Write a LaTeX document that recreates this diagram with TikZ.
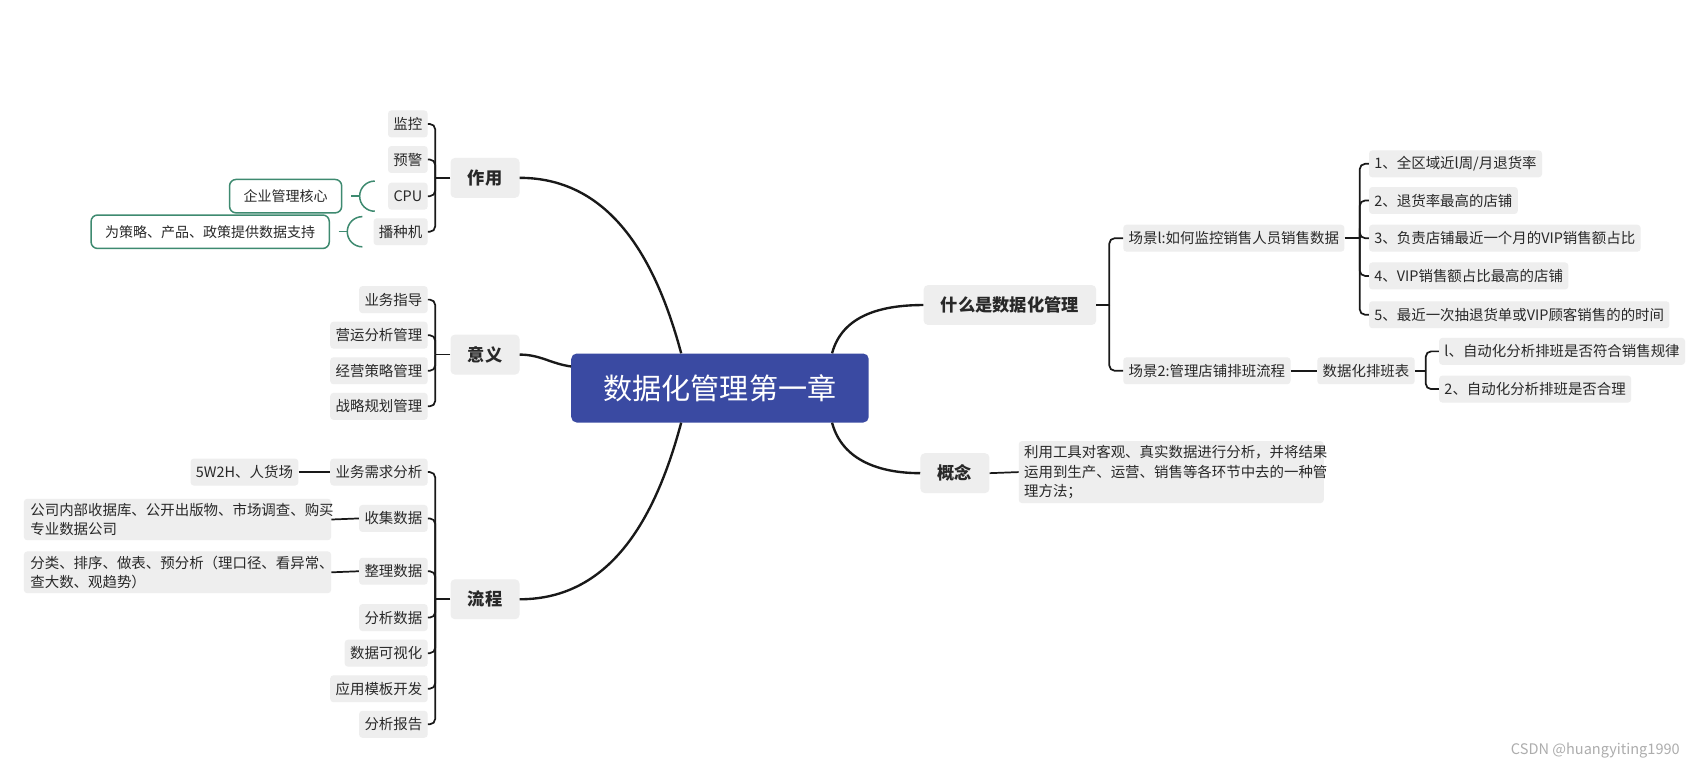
\documentclass[tikz,border=0pt]{standalone}
\usepackage{fontspec}
\setmainfont{Noto Sans CJK SC}

\definecolor{rootblue}{RGB}{58,74,162}
\definecolor{boxgray}{RGB}{238,238,238}
\definecolor{textgray}{RGB}{40,40,40}
\definecolor{notegreen}{RGB}{62,138,112}

\begin{document}
\begin{tikzpicture}[x=1pt, y=1pt,
    rootbox/.style={fill=rootblue, rounded corners=5pt, text=white,
      font=\fontsize{27}{30}\selectfont, minimum width=276pt, minimum height=64pt},
    topicbox/.style={fill=boxgray, rounded corners=4pt, text=textgray,
      font=\fontsize{16}{19}\selectfont\bfseries, inner xsep=16pt, minimum height=37pt},
    leafbox/.style={fill=boxgray, rounded corners=3pt, text=textgray,
      font=\fontsize{13.4}{18}\selectfont, inner xsep=5pt, inner ysep=3pt, minimum height=25pt},
    longbox/.style={leafbox, align=left, text width=273pt, inner xsep=6pt, inner ysep=4pt},
    notebox/.style={draw=notegreen, line width=1.4pt, rounded corners=6pt, text=textgray,
      font=\fontsize{13}{16}\selectfont, inner xsep=13pt, minimum height=31pt},
    trunk/.style={line width=2.2pt, black!90},
    twig/.style={line width=1.6pt, black!90, rounded corners=5pt},
    gline/.style={line width=1.4pt, notegreen}]

  \fill[white] (0,0) rectangle (1568,-710);
  \useasboundingbox (0,0) rectangle (1568,-710);

  % 1. Central topic
  \node[rootbox] (root) at (668,-360) {数据化管理第一章};

  % 2. Main topics
  \node[topicbox] (zy) at (450,-165) {作用};
  \node[topicbox] (yy) at (450,-329) {意义};
  \node[topicbox] (lc) at (450,-556) {流程};
  \node[topicbox] (sm) at (937,-283) {什么是数据化管理};
  \node[topicbox] (gn) at (886,-439) {概念};

  % Curves from the centre
  \draw[trunk] (zy.east) to[out=0, in=105] ([xshift=-36pt]root.north);
  \draw[trunk] (yy.east) to[out=0, in=172] ([yshift=20pt]root.west);
  \draw[trunk] (lc.east) to[out=0, in=-105] ([xshift=-36pt]root.south);
  \draw[trunk] ([xshift=104pt]root.north) to[out=75, in=180] (sm.west);
  \draw[trunk] ([xshift=104pt]root.south) to[out=-75, in=180] (gn.west);

  % 3. 作用
  \node[leafbox, anchor=east] (jk) at (397,-115) {监控};
  \node[leafbox, anchor=east] (yj) at (397,-148) {预警};
  \node[leafbox, anchor=east] (cpu) at (397,-182) {CPU};
  \node[leafbox, anchor=east] (bzj) at (397,-215) {播种机};
  \draw[twig] (zy.west) -- ++(-14,0);
  \draw[twig] ([xshift=-14pt]zy.west) |- (jk.east);
  \draw[twig] ([xshift=-14pt]zy.west) |- (yj.east);
  \draw[twig] ([xshift=-14pt]zy.west) |- (cpu.east);
  \draw[twig] ([xshift=-14pt]zy.west) |- (bzj.east);

  % Notes on CPU and 播种机
  \node[notebox] (hx) at (265,-182) {企业管理核心};
  \node[notebox] (zc) at (195,-215) {为策略、产品、政策提供数据支持};
  \draw[gline] ([xshift=8pt]hx.east) -- ++(8,0) coordinate (hxb);
  \draw[gline] ([shift={(14,14)}]hxb) to[out=180, in=90] (hxb)
    to[out=-90, in=180] ([shift={(14,-14)}]hxb);
  \draw[gline] ([xshift=8pt]zc.east) -- ++(8,0) coordinate (zcb);
  \draw[gline] ([shift={(14,14)}]zcb) to[out=180, in=90] (zcb)
    to[out=-90, in=180] ([shift={(14,-14)}]zcb);

  % 4. 意义
  \node[leafbox, anchor=east] (ywzd) at (397,-278) {业务指导};
  \node[leafbox, anchor=east] (yyfx) at (397,-311) {营运分析管理};
  \node[leafbox, anchor=east] (jycl) at (397,-344) {经营策略管理};
  \node[leafbox, anchor=east] (zlgh) at (397,-377) {战略规划管理};
  \draw[twig] (yy.west) -- ++(-14,0);
  \draw[twig] ([xshift=-14pt]yy.west) |- (ywzd.east);
  \draw[twig] ([xshift=-14pt]yy.west) |- (yyfx.east);
  \draw[twig] ([xshift=-14pt]yy.west) |- (jycl.east);
  \draw[twig] ([xshift=-14pt]yy.west) |- (zlgh.east);

  % 5. 流程
  \node[leafbox, anchor=east] (xqfx) at (397,-438) {业务需求分析};
  \node[leafbox, anchor=east] (sjsj) at (397,-481) {收集数据};
  \node[leafbox, anchor=east] (zlsj) at (397,-530) {整理数据};
  \node[leafbox, anchor=east] (fxsj) at (397,-573) {分析数据};
  \node[leafbox, anchor=east] (ksh) at (397,-606) {数据可视化};
  \node[leafbox, anchor=east] (mbkf) at (397,-639) {应用模板开发};
  \node[leafbox, anchor=east] (fxbg) at (397,-672) {分析报告};
  \draw[twig] (lc.west) -- ++(-14,0);
  \draw[twig] ([xshift=-14pt]lc.west) |- (xqfx.east);
  \draw[twig] ([xshift=-14pt]lc.west) |- (sjsj.east);
  \draw[twig] ([xshift=-14pt]lc.west) |- (zlsj.east);
  \draw[twig] ([xshift=-14pt]lc.west) |- (fxsj.east);
  \draw[twig] ([xshift=-14pt]lc.west) |- (ksh.east);
  \draw[twig] ([xshift=-14pt]lc.west) |- (mbkf.east);
  \draw[twig] ([xshift=-14pt]lc.west) |- (fxbg.east);

  \node[leafbox, anchor=east] (rhc) at (277,-438) {5W2H、人货场};
  \node[longbox, anchor=west] (sjly) at (22,-482)
    {公司内部收据库、公开出版物、市场调查、购买\\专业数据公司};
  \node[longbox, anchor=west] (zlff) at (22,-531)
    {分类、排序、做表、预分析（理口径、看异常、\\查大数、观趋势）};
  \draw[twig] (rhc.east) -- (xqfx.west);
  \draw[twig] (sjly.east) -- (sjsj.west);
  \draw[twig] (zlff.east) -- (zlsj.west);

  % 6. 什么是数据化管理
  \node[leafbox, anchor=west] (cj1) at (1042,-221) {场景l:如何监控销售人员销售数据};
  \node[leafbox, anchor=west] (cj2) at (1042,-344) {场景2:管理店铺排班流程};
  \draw[twig] (sm.east) -- ++(12,0);
  \draw[twig] ([xshift=12pt]sm.east) |- (cj1.west);
  \draw[twig] ([xshift=12pt]sm.east) |- (cj2.west);

  \node[leafbox, anchor=west] (th1) at (1270,-152) {1、全区域近l周/月退货率};
  \node[leafbox, anchor=west] (th2) at (1270,-186) {2、退货率最高的店铺};
  \node[leafbox, anchor=west] (th3) at (1270,-221) {3、负责店铺最近一个月的VIP销售额占比};
  \node[leafbox, anchor=west] (th4) at (1270,-256) {4、VIP销售额占比最高的店铺};
  \node[leafbox, anchor=west] (th5) at (1270,-292) {5、最近一次抽退货单或VIP顾客销售的的时间};
  \draw[twig] (cj1.east) -- ++(14,0);
  \draw[twig] ([xshift=14pt]cj1.east) |- (th1.west);
  \draw[twig] ([xshift=14pt]cj1.east) |- (th2.west);
  \draw[twig] ([xshift=14pt]cj1.east) |- (th3.west);
  \draw[twig] ([xshift=14pt]cj1.east) |- (th4.west);
  \draw[twig] ([xshift=14pt]cj1.east) |- (th5.west);

  \node[leafbox, anchor=west] (pbb) at (1222,-344) {数据化排班表};
  \draw[twig] (cj2.east) -- (pbb.west);
  \node[leafbox, anchor=west] (pb1) at (1335,-326) {l、自动化分析排班是否符合销售规律};
  \node[leafbox, anchor=west] (pb2) at (1335,-361) {2、自动化分析排班是否合理};
  \draw[twig] (pbb.east) -- ++(10,0);
  \draw[twig] ([xshift=10pt]pbb.east) |- (pb1.west);
  \draw[twig] ([xshift=10pt]pbb.east) |- (pb2.west);

  % 7. 概念
  \node[longbox, anchor=west, inner xsep=5pt] (gnsm) at (945,-438)
    {利用工具对客观、真实数据进行分析，并将结果\\运用到生产、运营、销售等各环节中去的一种管\\理方法；};
  \draw[twig] (gn.east) -- (gnsm.west);

  % Watermark
  \node[text=black!32, font=\fontsize{13.5}{15}\selectfont, anchor=east] (csdn) at (1562,-696)
    {CSDN @huangyiting1990};
\end{tikzpicture}
\end{document}
